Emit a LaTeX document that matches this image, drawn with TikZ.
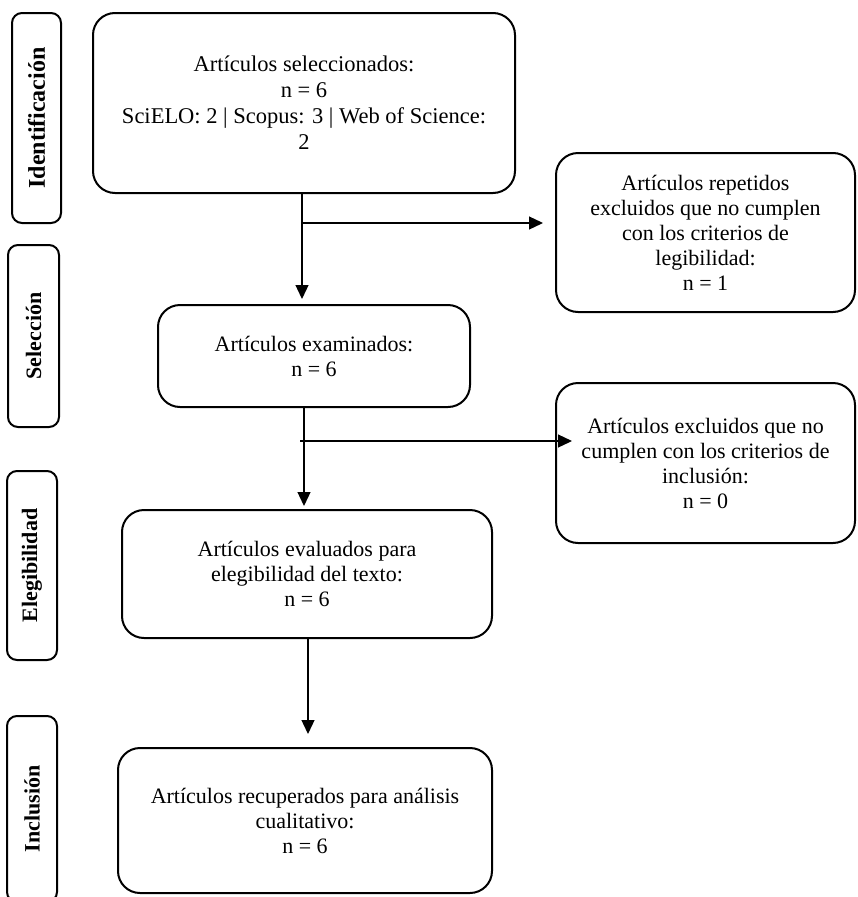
\documentclass[tikz,border=0pt]{standalone}
\usepackage{fontspec}
\setmainfont{Liberation Serif}
\usetikzlibrary{arrows.meta}
\begin{document}
\begin{tikzpicture}[x=1pt,y=1pt,
  box/.style={draw, line width=2pt, rounded corners=22pt, align=center, inner sep=4pt,
    font=\fontsize{22}{25}\selectfont},
  sidebox/.style={draw, line width=2pt, rounded corners=10pt, inner sep=0pt},
  sidelabel/.style={rotate=90, font=\fontsize{22}{25}\selectfont\bfseries},
  conn/.style={line width=1.3pt, -{Triangle[length=14pt,width=13pt]}}]
\path[use as bounding box, clip] (0,0) rectangle (857,-897);
% side boxes
\node[sidebox, minimum width=49pt, minimum height=210pt] (s1) at (36.5,-118) {};
\node[sidelabel, font=\fontsize{24}{26}\selectfont\bfseries] (l1) at (s1.center) {Identificación};
\node[sidebox, minimum width=51pt, minimum height=182pt] (s2) at (33.5,-336) {};
\node[sidelabel] (l2) at (s2.center) {Selección};
\node[sidebox, minimum width=50pt, minimum height=189pt] (s3) at (32,-565.5) {};
\node[sidelabel] (l3) at (s3.center) {Elegibilidad};
\node[sidebox, minimum width=50pt, minimum height=186pt] (s4) at (32,-809) {};
\node[sidelabel] (l4) at (s4.center) {Inclusión};
% main boxes
\node[box, font=\fontsize{22.5}{26}\selectfont, minimum width=422pt, minimum height=180pt] (b1) at (304,-103)
  {Artículos seleccionados:\\ n = 6\\ SciELO: 2 | Scopus: 3 | Web of Science:\\ 2};
\node[box, minimum width=299pt, minimum height=159pt] (r1) at (705.5,-232.5)
  {Artículos repetidos\\ excluidos que no cumplen\\ con los criterios de\\ legibilidad:\\ n = 1};
\node[box, minimum width=312pt, minimum height=102pt] (b2) at (314,-356)
  {Artículos examinados:\\ n = 6};
\node[box, minimum width=299pt, minimum height=160pt] (r2) at (705.5,-463)
  {Artículos excluidos que no\\ cumplen con los criterios de\\ inclusión:\\ n = 0};
\node[box, minimum width=370pt, minimum height=128pt] (b3) at (307,-574)
  {Artículos evaluados para\\ elegibilidad del texto:\\ n = 6};
\node[box, minimum width=374pt, minimum height=145pt] (b4) at (305,-820.5)
  {Artículos recuperados para análisis\\ cualitativo:\\ n = 6};
% connector coordinates
\coordinate (t1) at (302,-299);
\coordinate (j1) at (302,-223);
\coordinate (h1) at (543,-223);
\coordinate (t2) at (304,-506);
\coordinate (j2) at (300,-441);
\coordinate (h2) at (572,-441);
\coordinate (t3) at (308,-734);
% connectors
\draw[conn] (b1.south -| t1) -- (t1);
\draw[conn] (j1) -- (h1);
\draw[conn] (b2.south -| t2) -- (t2);
\draw[conn] (j2) -- (h2);
\draw[conn] (b3.south -| t3) -- (t3);
\end{tikzpicture}
\end{document}
